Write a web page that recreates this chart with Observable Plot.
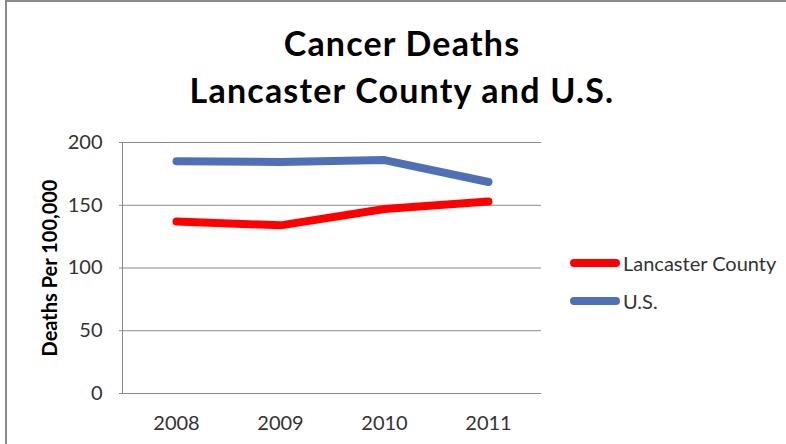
<!DOCTYPE html>
<html>
<head>
<meta charset="utf-8">
<script src="https://cdn.jsdelivr.net/npm/d3@7"></script>
<script src="https://cdn.jsdelivr.net/npm/@observablehq/plot@0.6"></script>
<style>
  html, body { margin: 0; padding: 0; background: #fff; }
  #wrap { position: relative; width: 786px; height: 444px; overflow: hidden; font-family: Lato, "Open Sans", sans-serif; }
  #border { position: absolute; left: 5px; top: 0; width: 800px; height: 460px; border-top: 2px solid #8a8a8a; border-left: 2px solid #8a8a8a; }
  .title { position: absolute; left: 102px; width: 600px; text-align: center; font-weight: bold; font-size: 34px; letter-spacing: 1.2px; color: #000; line-height: 1; white-space: nowrap; }
  .leg { position: absolute; left: 570px; font-size: 20px; color: #333; white-space: nowrap; display: flex; align-items: center; }
  .leg .sw { display: inline-block; width: 50px; height: 8px; border-radius: 4px; margin-right: 3px; }
  #chart { position: absolute; left: 0; top: 0; }
</style>
</head>
<body>
<div id="wrap">
  <div id="chart"></div>
  <div id="border"></div>
  <div class="title" style="top:26px">Cancer Deaths</div>
  <div class="title" style="top:73px">Lancaster County and U.S.</div>
  <div id="legend"></div>
</div>
<script>
const years = ["2008", "2009", "2010", "2011"];
const lancaster = [137, 134, 147, 153];
const us = [185, 184.5, 186, 168.5];
const seriesNames = ["Lancaster County", "U.S."];
const seriesColors = ["#ff0000", "#5070b6"];
const yTicks = [0, 50, 100, 150, 200];
const yTitle = "Deaths Per 100,000";

const data = [];
years.forEach((yr, i) => {
  data.push({year: yr, value: lancaster[i], series: seriesNames[0]});
  data.push({year: yr, value: us[i], series: seriesNames[1]});
});

const chart = Plot.plot({
  width: 786,
  height: 444,
  marginLeft: 122,
  marginRight: 245,
  marginTop: 142,
  marginBottom: 51,
  style: {fontFamily: "Lato, 'Open Sans', sans-serif", fontSize: "20px", color: "#333", background: "transparent", overflow: "visible"},
  x: {type: "point", domain: years, padding: 0.5, label: null},
  y: {domain: [0, 200], label: null},
  color: {domain: seriesNames, range: seriesColors},
  marks: [
    Plot.ruleY(yTicks, {stroke: "#8a8a8a", strokeWidth: 1, strokeOpacity: 1}),
    Plot.frame({anchor: "left", stroke: "#8a8a8a", strokeOpacity: 1}),
    Plot.axisY({ticks: yTicks, tickSize: 3, tickPadding: 17, stroke: "#8a8a8a", label: null, fill: "#333", fontSize: 20}),
    Plot.axisX({tickSize: 0, tickPadding: 22, label: null, fill: "#333", fontSize: 20}),
    Plot.text([yTitle], {frameAnchor: "left", textAnchor: "middle", rotate: -90, dx: -72, fontWeight: "bold", fontSize: 20, fill: "#000"}),
    Plot.line(data, {x: "year", y: "value", z: "series", stroke: "series", strokeWidth: 8, strokeLinecap: "round", strokeLinejoin: "round"})
  ]
});
document.getElementById("chart").appendChild(chart);

const legend = document.getElementById("legend");
const legTops = [251, 289];
seriesNames.forEach((name, i) => {
  const d = document.createElement("div");
  d.className = "leg";
  d.style.top = legTops[i] + "px";
  d.innerHTML = `<span class="sw" style="background:${seriesColors[i]}"></span><span>${name}</span>`;
  legend.appendChild(d);
});
</script>
</body>
</html>
